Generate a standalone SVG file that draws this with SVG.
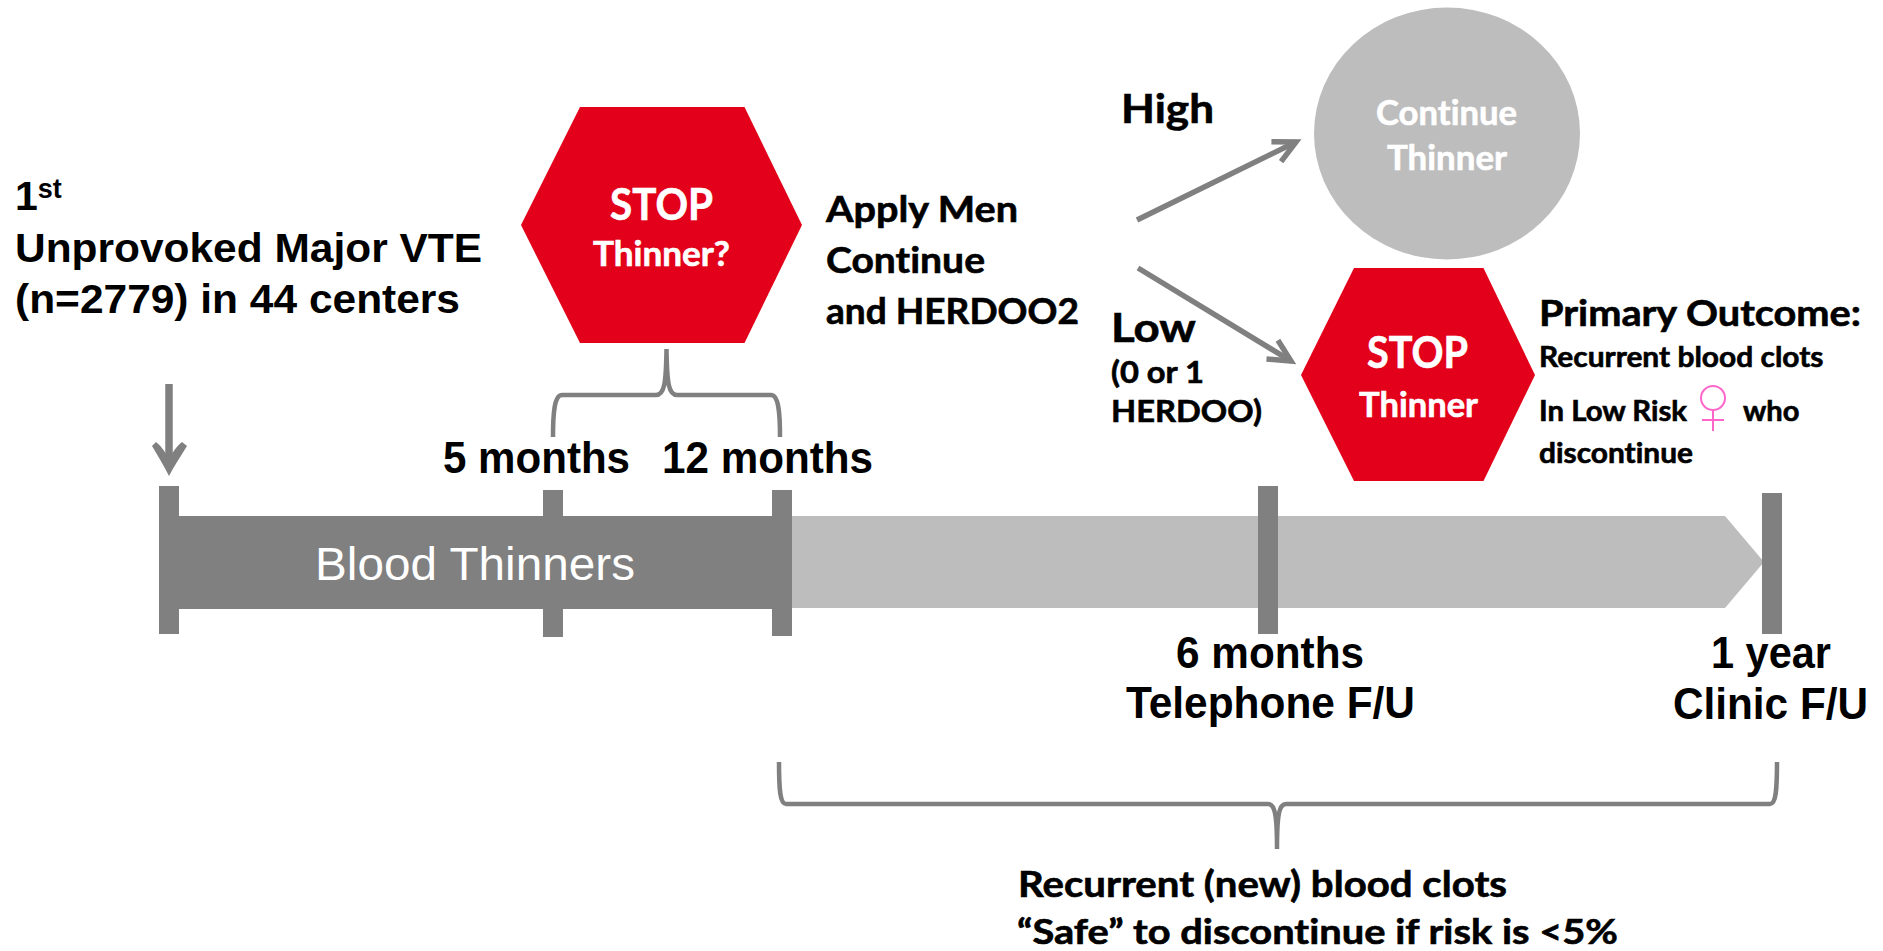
<svg xmlns="http://www.w3.org/2000/svg" width="1883" height="951" viewBox="0 0 1883 951">
<style>
text{fill:#000}
.a{font-family:"Liberation Sans",Arial,sans-serif;font-weight:700}
.c{font-family:Lato,"Open Sans",sans-serif;font-weight:700;font-variant-ligatures:none;stroke:#000;stroke-width:.6}
.c.w{stroke:#fff}
.w{fill:#fff}
.dark{fill:#808080}
.hex{fill:#E2001A}
.line{fill:none;stroke:#808080;stroke-width:5.500}
.brace{fill:none;stroke:#808080;stroke-width:4.500}
</style>
<defs>
<marker id="open" markerUnits="userSpaceOnUse" markerWidth="40" markerHeight="40" refX="27" refY="15" orient="auto" overflow="visible">
<path d="M5 4 L27 15 L5 26" fill="none" stroke="#808080" stroke-width="5.500" stroke-linejoin="miter"/>
</marker>
</defs>
<g id="timeline">
<path d="M792 516H1725L1764 562L1725 608H792Z" fill="#BDBDBD"/>
<rect class="dark" x="179" y="516" width="593" height="93"/>
<rect class="dark" x="159" y="486" width="20" height="148"/>
<rect class="dark" x="543" y="490" width="20" height="147"/>
<rect class="dark" x="772" y="490" width="20" height="146"/>
<rect class="dark" x="1258" y="486" width="20" height="148"/>
<rect class="dark" x="1762" y="493" width="20" height="141"/>
<text x="315" y="580" font-family="Liberation Sans,Arial,sans-serif" font-size="47" textLength="320" lengthAdjust="spacingAndGlyphs" class="w">Blood Thinners</text>
</g>
<g id="connectors">
<path class="line" style="stroke-width:7.500" d="M169 384V465"/>
<path d="M152 446L156 442C160 445 163 449 169 458C175 449 178 445 182 442L187 446C181 456 174 466 169 476C164 466 158 456 152 446Z" fill="#808080"/>
<path class="line" d="M1137 220L1296 142" marker-end="url(#open)"/>
<path class="line" d="M1138 268L1291 361" marker-end="url(#open)"/>
<path class="brace" d="M553 437C553 415 554 395 562 395H656C664 395 666 385 666.500 349C667 385 669 395 677 395H771C779 395 780 415 780 437"/>
<path class="brace" d="M779 762C779 790 780 804 786 804H1268C1275 804 1277 815 1277 849C1277 815 1279 804 1286 804H1770C1776 804 1777 790 1777 762"/>
</g>
<g id="start-label">
<text class="a" x="15" y="210" font-size="41">1<tspan font-size="27" dy="-12">st</tspan></text>
<text class="a" x="15" y="262" font-size="41" textLength="467" lengthAdjust="spacingAndGlyphs">Unprovoked Major VTE</text>
<text class="a" x="15" y="313" font-size="41" textLength="445" lengthAdjust="spacingAndGlyphs">(n=2779) in 44 centers</text>
</g>
<g id="stop-question">
<path class="hex" d="M580 107H744.500L802 225L744.500 343H580L521 225Z"/>
<text class="c w" x="610" y="220" font-size="43" textLength="103" lengthAdjust="spacingAndGlyphs">STOP</text>
<text class="c w" x="593" y="266" font-size="34" textLength="137" lengthAdjust="spacingAndGlyphs">Thinner?</text>
</g>
<g id="time-labels">
<text class="a" x="443" y="473" font-size="44" textLength="187" lengthAdjust="spacingAndGlyphs">5 months</text>
<text class="a" x="662" y="473" font-size="44" textLength="211" lengthAdjust="spacingAndGlyphs">12 months</text>
<text class="a" x="1176" y="668" font-size="44" textLength="188" lengthAdjust="spacingAndGlyphs">6 months</text>
<text class="a" x="1126" y="718" font-size="44" textLength="289" lengthAdjust="spacingAndGlyphs">Telephone F/U</text>
<text class="a" x="1711" y="668" font-size="44" textLength="120" lengthAdjust="spacingAndGlyphs">1 year</text>
<text class="a" x="1673" y="719" font-size="44" textLength="195" lengthAdjust="spacingAndGlyphs">Clinic F/U</text>
</g>
<g id="apply-label">
<text class="c" x="826" y="222" font-size="36" textLength="192" lengthAdjust="spacingAndGlyphs">Apply Men</text>
<text class="c" x="826" y="273" font-size="36" textLength="159" lengthAdjust="spacingAndGlyphs">Continue</text>
<text class="c" x="826" y="324" font-size="36" textLength="253" lengthAdjust="spacingAndGlyphs">and HERDOO2</text>
</g>
<g id="high-label">
<text class="c" x="1121" y="123" font-size="41" textLength="93" lengthAdjust="spacingAndGlyphs">High</text>
</g>
<g id="low-label">
<text class="c" x="1111" y="342" font-size="41" textLength="85" lengthAdjust="spacingAndGlyphs">Low</text>
<text class="c" x="1111" y="383" font-size="30" textLength="93" lengthAdjust="spacingAndGlyphs">(0 or 1</text>
<text class="c" x="1111" y="422" font-size="30" textLength="151" lengthAdjust="spacingAndGlyphs">HERDOO)</text>
</g>
<g id="continue-thinner">
<ellipse cx="1447" cy="133.500" rx="133" ry="126" fill="#BDBDBD"/>
<text class="c w" x="1376" y="125" font-size="34" textLength="141" lengthAdjust="spacingAndGlyphs">Continue</text>
<text class="c w" x="1387" y="170" font-size="34" textLength="120" lengthAdjust="spacingAndGlyphs">Thinner</text>
</g>
<g id="stop-thinner">
<path class="hex" d="M1354 268H1483.500L1535 375L1483.500 481H1354L1301 375Z"/>
<text class="c w" x="1367" y="368" font-size="43" textLength="101" lengthAdjust="spacingAndGlyphs">STOP</text>
<text class="c w" x="1359" y="417" font-size="34" textLength="119" lengthAdjust="spacingAndGlyphs">Thinner</text>
</g>
<g id="primary-outcome">
<text class="c" x="1539" y="326" font-size="37" textLength="322" lengthAdjust="spacingAndGlyphs">Primary Outcome:</text>
<text class="c" x="1539" y="367" font-size="28" textLength="284.500" lengthAdjust="spacingAndGlyphs">Recurrent blood clots</text>
<text class="c" x="1539" y="421" font-size="28" textLength="148" lengthAdjust="spacingAndGlyphs">In Low Risk</text>
<path d="M1713 410V431M1702 420H1724" fill="none" stroke="#FF66CC" stroke-width="2"/>
<ellipse cx="1713" cy="398" rx="12" ry="12" fill="none" stroke="#FF66CC" stroke-width="2"/>
<text class="c" x="1743" y="421" font-size="28" textLength="56.500" lengthAdjust="spacingAndGlyphs">who</text>
<text class="c" x="1539" y="463" font-size="28" textLength="154" lengthAdjust="spacingAndGlyphs">discontinue</text>
</g>
<g id="recurrent-label">
<text class="c" x="1018" y="897" font-size="36" textLength="489" lengthAdjust="spacingAndGlyphs">Recurrent (new) blood clots</text>
<text class="c" x="1017" y="943.500" font-size="34" textLength="601" lengthAdjust="spacingAndGlyphs">“Safe” to discontinue if risk is &lt;5%</text>
</g>
</svg>
